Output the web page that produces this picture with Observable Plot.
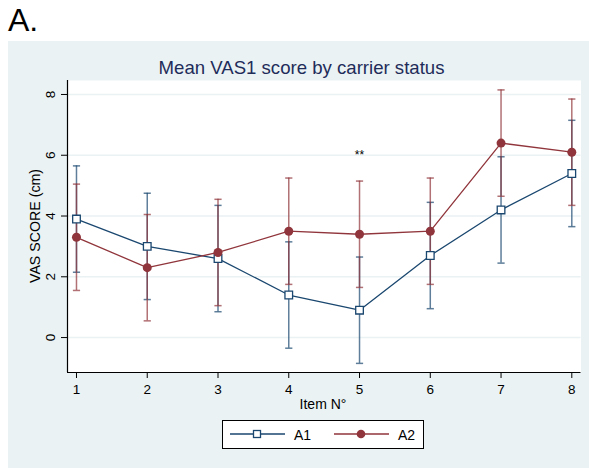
<!DOCTYPE html>
<html><head><meta charset="utf-8">
<script src="https://cdn.jsdelivr.net/npm/d3@7"></script>
<script src="https://cdn.jsdelivr.net/npm/@observablehq/plot@0.6"></script>
<style>
body{margin:0;background:#fff;font-family:"Liberation Sans",Arial,sans-serif;}
#wrap{position:relative;width:589px;height:468px;overflow:hidden;}
#bg{position:absolute;left:8px;top:41px;width:581px;height:427px;background:#eaf2f3;}
#chart{position:absolute;left:0;top:0;}
#over{position:absolute;left:0;top:0;pointer-events:none;}
</style></head>
<body>
<div id="wrap"><div id="bg"></div><div id="chart"></div>
<svg id="over" width="589" height="468" font-family="Liberation Sans, Arial, sans-serif">
  <text x="8" y="31" font-size="32" fill="#000">A.</text>
  <text x="301.5" y="74" font-size="18.6" fill="#1e2c5a" text-anchor="middle">Mean VAS1 score by carrier status</text>
  <text transform="translate(40,226) rotate(-90)" font-size="14.2" fill="#000" text-anchor="middle">VAS SCORE (cm)</text>
  <text x="323" y="409" font-size="14" fill="#000" text-anchor="middle">Item N°</text>
  <rect x="222.5" y="420.5" width="201" height="28" fill="#fff" stroke="#000" stroke-width="1"/>
  <line x1="230" y1="434" x2="285" y2="434" stroke="#1a476f" stroke-width="1.3"/>
  <rect x="253.5" y="430.5" width="7" height="7" fill="#fff" stroke="#1a476f" stroke-width="1.3"/>
  <text x="294" y="440" font-size="14" fill="#000">A1</text>
  <line x1="334" y1="434" x2="389" y2="434" stroke="#90353b" stroke-width="1.3"/>
  <circle cx="361" cy="434" r="4.3" fill="#90353b"/>
  <text x="398" y="440" font-size="14" fill="#000">A2</text>
</svg>
</div>
<script>
const items = [1, 2, 3, 4, 5, 6, 7, 8];
const a1Mean = [3.9, 3.0, 2.6, 1.4, 0.9, 2.7, 4.2, 5.4];
const a1Low  = [2.15, 1.25, 0.85, -0.35, -0.85, 0.95, 2.45, 3.65];
const a1High = [5.65, 4.75, 4.35, 3.15, 2.65, 4.45, 5.95, 7.15];
const a2Mean = [3.3, 2.3, 2.8, 3.5, 3.4, 3.5, 6.4, 6.1];
const a2Low  = [1.55, 0.55, 1.05, 1.75, 1.65, 1.75, 4.65, 4.35];
const a2High = [5.05, 4.05, 4.55, 5.25, 5.15, 5.25, 8.15, 7.85];
const yTicks = [0, 2, 4, 6, 8];
const notes = [{item: 5, value: 6.0, label: "**"}];
const xDomain = [0.873, 8.13];
const yDomain = [-1.15, 8.46];

const blue = "#1a476f", red = "#90353b";
const build = (mean, lo, hi) => items.map((it, i) => ({item: it, mean: mean[i], lo: lo[i], hi: hi[i]}));
const A1 = build(a1Mean, a1Low, a1High);
const A2 = build(a2Mean, a2Low, a2High);

const cap = {draw(ctx, size) { const w = Math.sqrt(size / Math.PI); ctx.moveTo(-w, 0); ctx.lineTo(w, 0); }};

const errMarks = (data, color) => [
  Plot.ruleX(data, {x: "item", y1: "lo", y2: "hi", stroke: color, strokeWidth: 1.5, strokeOpacity: 0.7}),
  Plot.dot(data, {x: "item", y: "lo", symbol: cap, r: 3.6, stroke: color, strokeWidth: 1.5, strokeOpacity: 0.7}),
  Plot.dot(data, {x: "item", y: "hi", symbol: cap, r: 3.6, stroke: color, strokeWidth: 1.5, strokeOpacity: 0.7})
];

const plot = Plot.plot({
  width: 589, height: 468,
  marginLeft: 67, marginTop: 80, marginRight: 8.5, marginBottom: 96,
  style: {background: "transparent", fontFamily: "Liberation Sans, Arial, sans-serif", color: "#000"},
  x: {domain: xDomain, label: null},
  y: {domain: yDomain, label: null},
  marks: [
    Plot.frame({fill: "#fff", stroke: "none"}),
    Plot.gridY(yTicks, {stroke: "#eaf2f3", strokeOpacity: 1, strokeWidth: 1.5}),
    ...errMarks(A1, blue),
    ...errMarks(A2, red),
    Plot.line(A1, {x: "item", y: "mean", stroke: blue, strokeWidth: 1.3}),
    Plot.line(A2, {x: "item", y: "mean", stroke: red, strokeWidth: 1.3}),
    Plot.dot(A1, {x: "item", y: "mean", symbol: "square", r: 4.3, stroke: blue, fill: "#fff", strokeWidth: 1.3}),
    Plot.dot(A2, {x: "item", y: "mean", r: 4.5, fill: red, stroke: "none"}),
    Plot.text(notes, {x: "item", y: "value", text: "label", fontSize: 12, fill: "#000"}),
    Plot.ruleX([xDomain[0]], {stroke: "#000", strokeWidth: 1.2}),
    Plot.ruleY([yDomain[0]], {stroke: "#000", strokeWidth: 1.2}),
    Plot.axisX(items, {tickSize: 6, tickPadding: 6, fontSize: 13.5, label: null, stroke: "#000"}),
    Plot.axisY(yTicks, {tickSize: 6, tickFormat: () => "", label: null, stroke: "#000"}),
    Plot.text(yTicks, {y: d => d, text: d => String(d), frameAnchor: "left", dx: -17, rotate: -90,
      textAnchor: "middle", lineAnchor: "middle", fontSize: 13.5, fill: "#000"})
  ]
});
document.getElementById("chart").appendChild(plot);
</script>
</body></html>
